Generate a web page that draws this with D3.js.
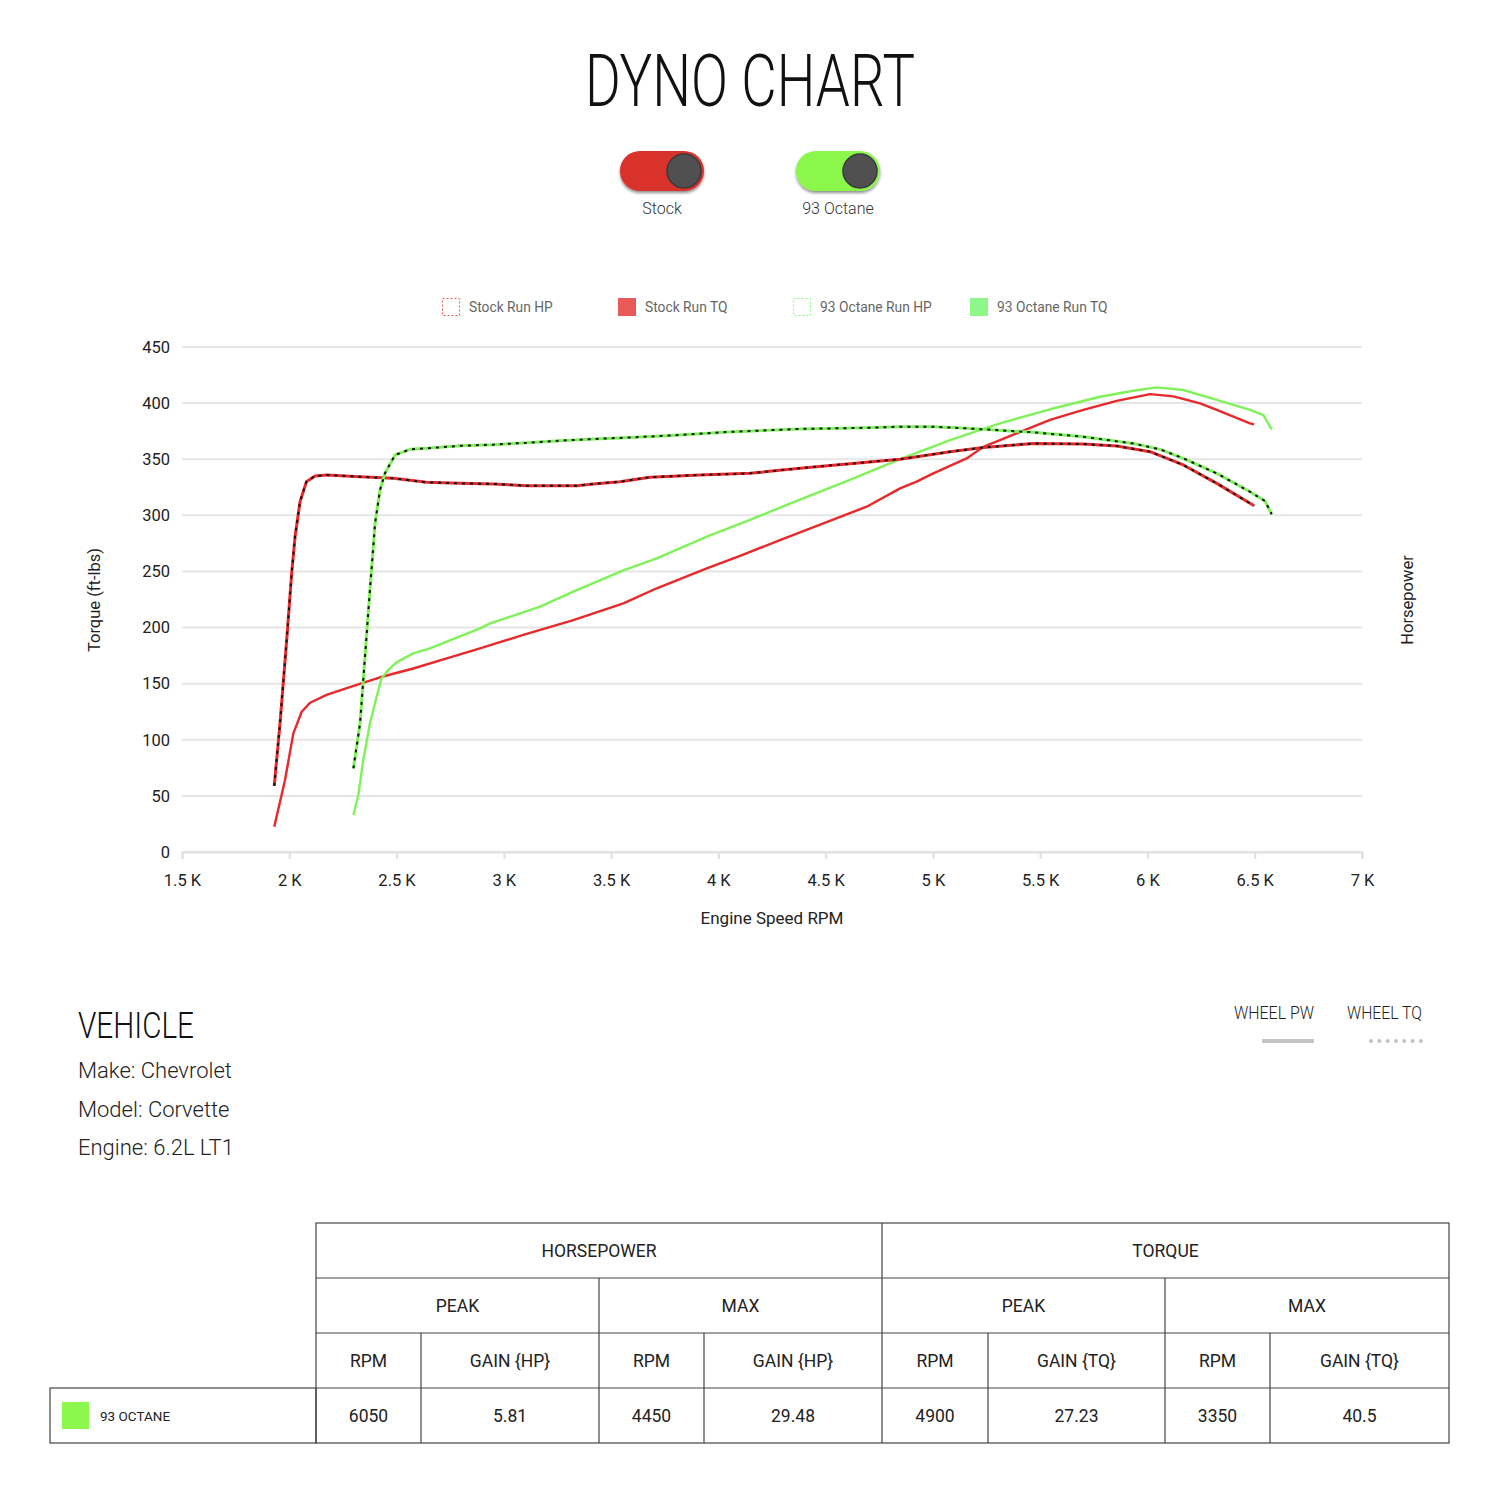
<!DOCTYPE html>
<html>
<head>
<meta charset="utf-8">
<script src="https://cdn.jsdelivr.net/npm/d3@7"></script>
<style>
  html, body { margin: 0; padding: 0; background: #fff; }
  svg { display: block; font-family: Roboto, "Noto Sans", sans-serif; }
</style>
</head>
<body>
<div id="page"></div>
<script>
// dashed curves (legend: "Run HP"), [rpm, value]
const stockRunHP = [
  [1930, 59], [1957, 115], [1988, 189], [2011, 248], [2027, 281], [2050, 312],
  [2080, 330], [2120, 335], [2174, 336], [2330, 334.4], [2485, 333], [2640, 329.4],
  [2796, 328.5], [2951, 328], [3107, 326.4], [3340, 326.4], [3417, 328], [3541, 330],
  [3681, 334], [3914, 336], [4147, 337.4], [4380, 342], [4613, 346], [4847, 350],
  [5080, 356.7], [5235, 360.5], [5468, 364], [5701, 363.6], [5857, 361.8], [6012, 356.7],
  [6167, 344.9], [6323, 328.5], [6478, 310.7], [6497, 308.6]
];
const stockRunTQ = [
  [1930, 22.5], [1980, 64], [2019, 105.7], [2058, 125], [2097, 133], [2174, 140],
  [2268, 146], [2423, 155.7], [2578, 163.5], [2734, 172.5], [2889, 181.5], [3091, 193.4],
  [3324, 206.7], [3557, 221.6], [3713, 235], [3946, 252.8], [4101, 263.8], [4287, 278],
  [4691, 307.7], [4847, 324], [4924, 330], [5002, 337.4], [5157, 350.7], [5235, 361],
  [5390, 373], [5546, 385], [5701, 393.9], [5857, 402], [6012, 408], [6121, 406],
  [6245, 399.8], [6323, 393.9], [6478, 382], [6497, 381]
];
const octaneRunHP = [
  [2299, 74.6], [2330, 114.7], [2353, 174], [2376, 233.5], [2400, 293], [2423, 322.6],
  [2446, 337.5], [2493, 353.8], [2563, 358.8], [2640, 359.7], [2796, 362], [2951, 363],
  [3107, 364.7], [3262, 366.5], [3417, 368], [3541, 369], [3759, 371], [4069, 374.5],
  [4380, 377], [4691, 378], [4847, 379], [5002, 379], [5157, 377.5], [5235, 376.6],
  [5468, 374], [5701, 370], [5934, 364], [6059, 358.8], [6167, 350.8], [6323, 337.4],
  [6478, 321], [6548, 312.8], [6579, 301]
];
const octaneRunTQ = [
  [2299, 33], [2322, 50.8], [2345, 82], [2376, 114.7], [2407, 138], [2430, 154.7],
  [2460, 162], [2500, 169], [2578, 177], [2656, 181.5], [2734, 187.4], [2889, 199.3],
  [2936, 203.7], [3169, 218.6], [3324, 232], [3557, 251], [3713, 261.7], [3946, 281],
  [4147, 296], [4380, 314], [4613, 331.5], [4847, 350], [5080, 367], [5313, 382],
  [5546, 394.5], [5779, 405.7], [5934, 411], [6043, 414], [6167, 411.7], [6323, 402.8],
  [6478, 393.9], [6540, 389.4], [6579, 376.6]
];

const xTicks = [1500, 2000, 2500, 3000, 3500, 4000, 4500, 5000, 5500, 6000, 6500, 7000];
const yTicks = [0, 50, 100, 150, 200, 250, 300, 350, 400, 450];
const toggles = ["Stock", "93 Octane"];
const legendLabels = ["Stock Run HP", "Stock Run TQ", "93 Octane Run HP", "93 Octane Run TQ"];
const vehicle = ["Make: Chevrolet", "Model: Corvette", "Engine: 6.2L LT1"];

const tableGroups = ["HORSEPOWER", "TORQUE"];
const tableSub = ["PEAK", "MAX", "PEAK", "MAX"];
const tableCols = ["RPM", "GAIN {HP}", "RPM", "GAIN {HP}", "RPM", "GAIN {TQ}", "RPM", "GAIN {TQ}"];
const tableRowName = "93 OCTANE";
const tableValues = ["6050", "5.81", "4450", "29.48", "4900", "27.23", "3350", "40.5"];

const RED = "#e8282a", GREEN = "#7ff25a";

const svg = d3.select("#page").append("svg").attr("width", 1500).attr("height", 1500);

const defs = svg.append("defs");
const sh = defs.append("filter").attr("id", "shadow").attr("x", "-20%").attr("y", "-20%")
  .attr("width", "140%").attr("height", "160%");
sh.append("feDropShadow").attr("dx", 0).attr("dy", 2).attr("stdDeviation", 1.5)
  .attr("flood-color", "#000").attr("flood-opacity", 0.45);

// title
svg.append("text").attr("x", 750).attr("y", 106).attr("text-anchor", "middle")
  .attr("font-size", 72).attr("font-weight", 300).attr("fill", "#111")
  .attr("textLength", 330).attr("lengthAdjust", "spacingAndGlyphs")
  .text("DYNO CHART");

// toggles
const tg = svg.selectAll("g.toggle").data(toggles).join("g")
  .attr("class", "toggle")
  .attr("transform", (d, i) => `translate(${662 + i * 176},171)`);
tg.append("rect").attr("x", -42).attr("y", -20).attr("width", 84).attr("height", 40)
  .attr("rx", 20).attr("fill", (d, i) => i === 0 ? "#d8302a" : "#8cf74c")
  .attr("filter", "url(#shadow)");
tg.append("circle").attr("cx", 22).attr("cy", 0).attr("r", 17)
  .attr("fill", "#505050").attr("stroke", "#3a3a3a").attr("stroke-width", 1.5);
tg.append("text").attr("y", 43).attr("text-anchor", "middle")
  .attr("font-size", 16).attr("font-weight", 300).attr("fill", "#333").text(d => d);

// legend
const legX = [442, 618, 793, 970];
const legColors = ["#e85a5a", "#e85a5a", "#8ef78a", "#8ef78a"];
const lg = svg.selectAll("g.leg").data(legendLabels).join("g")
  .attr("class", "leg").attr("transform", (d, i) => `translate(${legX[i]},298)`);
lg.append("rect").attr("x", (d, i) => i % 2 === 0 ? 0.5 : 0).attr("y", (d, i) => i % 2 === 0 ? 0.5 : 0)
  .attr("width", (d, i) => i % 2 === 0 ? 17 : 18).attr("height", (d, i) => i % 2 === 0 ? 17 : 18)
  .attr("fill", (d, i) => i % 2 === 0 ? "none" : legColors[i])
  .attr("stroke", (d, i) => i % 2 === 0 ? legColors[i] : "none")
  .attr("stroke-dasharray", "2,2");
lg.append("text").attr("x", 27).attr("y", 14).attr("font-size", 13.8)
  .attr("fill", "#666").text(d => d);

// chart
const x = d3.scaleLinear().domain([1500, 7000]).range([182, 1362]);
const y = d3.scaleLinear().domain([0, 450]).range([852, 347]);

svg.append("g").selectAll("line").data(yTicks).join("line")
  .attr("x1", x(1500)).attr("x2", x(7000))
  .attr("y1", d => y(d)).attr("y2", d => y(d))
  .attr("stroke", "#e6e6e6").attr("stroke-width", 2);

const yAxis = svg.append("g").attr("transform", "translate(182,0)")
  .call(d3.axisLeft(y).tickValues(yTicks).tickSize(0).tickPadding(12));
yAxis.select(".domain").remove();
yAxis.selectAll("text").attr("font-size", 16.5).attr("fill", "#222")
  .attr("font-family", "Roboto, sans-serif");

const xAxis = svg.append("g").attr("transform", "translate(0,852)")
  .call(d3.axisBottom(x).tickValues(xTicks).tickSize(7).tickPadding(15)
    .tickFormat(d => `${d / 1000} K`));
xAxis.select(".domain").attr("stroke", "#e0e0e0").attr("stroke-width", 2);
xAxis.selectAll(".tick line").attr("stroke", "#e0e0e0").attr("stroke-width", 2);
xAxis.selectAll("text").attr("font-size", 16.5).attr("fill", "#222")
  .attr("font-family", "Roboto, sans-serif");

svg.append("text").attr("transform", "translate(100,600) rotate(-90)")
  .attr("text-anchor", "middle").attr("font-size", 16.5).attr("fill", "#222")
  .text("Torque (ft-lbs)");
svg.append("text").attr("transform", "translate(1413,600) rotate(-90)")
  .attr("text-anchor", "middle").attr("font-size", 16.5).attr("fill", "#222")
  .text("Horsepower");
svg.append("text").attr("x", 772).attr("y", 924).attr("text-anchor", "middle")
  .attr("font-size", 17).attr("fill", "#222").text("Engine Speed RPM");

const line = d3.line().x(d => x(d[0])).y(d => y(d[1])).curve(d3.curveLinear);
const plot = svg.append("g").attr("fill", "none").attr("stroke-linejoin", "round");

function solid(data, color) {
  plot.append("path").attr("d", line(data)).attr("stroke", color).attr("stroke-width", 2.4);
}
function dashed(data, color) {
  plot.append("path").attr("d", line(data)).attr("stroke", color).attr("stroke-width", 3);
  plot.append("path").attr("d", line(data)).attr("stroke", "#111").attr("stroke-width", 2)
    .attr("stroke-dasharray", "3,5");
}
solid(stockRunTQ, RED);
solid(octaneRunTQ, GREEN);
dashed(stockRunHP, RED);
dashed(octaneRunHP, GREEN);

// vehicle block
svg.append("text").attr("x", 78).attr("y", 1038).attr("font-size", 36).attr("font-weight", 300)
  .attr("fill", "#111").attr("textLength", 116).attr("lengthAdjust", "spacingAndGlyphs")
  .text("VEHICLE");
svg.selectAll("text.veh").data(vehicle).join("text").attr("class", "veh")
  .attr("x", 78).attr("y", (d, i) => 1078 + i * 38.5).attr("font-size", 22)
  .attr("font-weight", 300).attr("fill", "#222").text(d => d);

// wheel legend
svg.append("text").attr("x", 1234).attr("y", 1019).attr("font-size", 19).attr("font-weight", 300)
  .attr("fill", "#222").attr("textLength", 80).attr("lengthAdjust", "spacingAndGlyphs").text("WHEEL PW");
svg.append("text").attr("x", 1347).attr("y", 1019).attr("font-size", 19).attr("font-weight", 300)
  .attr("fill", "#222").attr("textLength", 75).attr("lengthAdjust", "spacingAndGlyphs").text("WHEEL TQ");
svg.append("line").attr("x1", 1262).attr("x2", 1314).attr("y1", 1041).attr("y2", 1041)
  .attr("stroke", "#c4c4c4").attr("stroke-width", 4);
svg.append("line").attr("x1", 1371).attr("x2", 1424).attr("y1", 1041).attr("y2", 1041)
  .attr("stroke", "#c4c4c4").attr("stroke-width", 4).attr("stroke-linecap", "round")
  .attr("stroke-dasharray", "0.1,8.2");

// table
const colX = [316, 421, 599, 704, 882, 988, 1165, 1270, 1449];
const rowY = [1223, 1278, 1333, 1388, 1443];
const tb = svg.append("g").attr("stroke", "#444").attr("stroke-width", 1.2).attr("fill", "none");
tb.append("rect").attr("x", colX[0]).attr("y", rowY[0]).attr("width", colX[8] - colX[0]).attr("height", rowY[4] - rowY[0]);
tb.append("rect").attr("x", 50).attr("y", rowY[3]).attr("width", colX[0] - 50).attr("height", rowY[4] - rowY[3]);
rowY.slice(1, 4).forEach(ry => tb.append("line").attr("x1", colX[0]).attr("x2", colX[8]).attr("y1", ry).attr("y2", ry));
tb.append("line").attr("x1", colX[4]).attr("x2", colX[4]).attr("y1", rowY[0]).attr("y2", rowY[4]);
[2, 6].forEach(c => tb.append("line").attr("x1", colX[c]).attr("x2", colX[c]).attr("y1", rowY[1]).attr("y2", rowY[4]));
[1, 3, 5, 7].forEach(c => tb.append("line").attr("x1", colX[c]).attr("x2", colX[c]).attr("y1", rowY[2]).attr("y2", rowY[4]));

const cellText = (cx, ry, t) => svg.append("text").attr("x", cx).attr("y", ry + 34)
  .attr("text-anchor", "middle").attr("font-size", 17.5).attr("fill", "#222").text(t);
tableGroups.forEach((t, i) => cellText((colX[i * 4] + colX[i * 4 + 4]) / 2, rowY[0], t));
tableSub.forEach((t, i) => cellText((colX[i * 2] + colX[i * 2 + 2]) / 2, rowY[1], t));
tableCols.forEach((t, i) => cellText((colX[i] + colX[i + 1]) / 2, rowY[2], t));
tableValues.forEach((t, i) => cellText((colX[i] + colX[i + 1]) / 2, rowY[3], t));

svg.append("rect").attr("x", 62).attr("y", 1402).attr("width", 27).attr("height", 27).attr("fill", "#8cf74c");
svg.append("text").attr("x", 100).attr("y", 1421).attr("font-size", 13.5).attr("fill", "#222").text(tableRowName);
</script>
</body>
</html>
